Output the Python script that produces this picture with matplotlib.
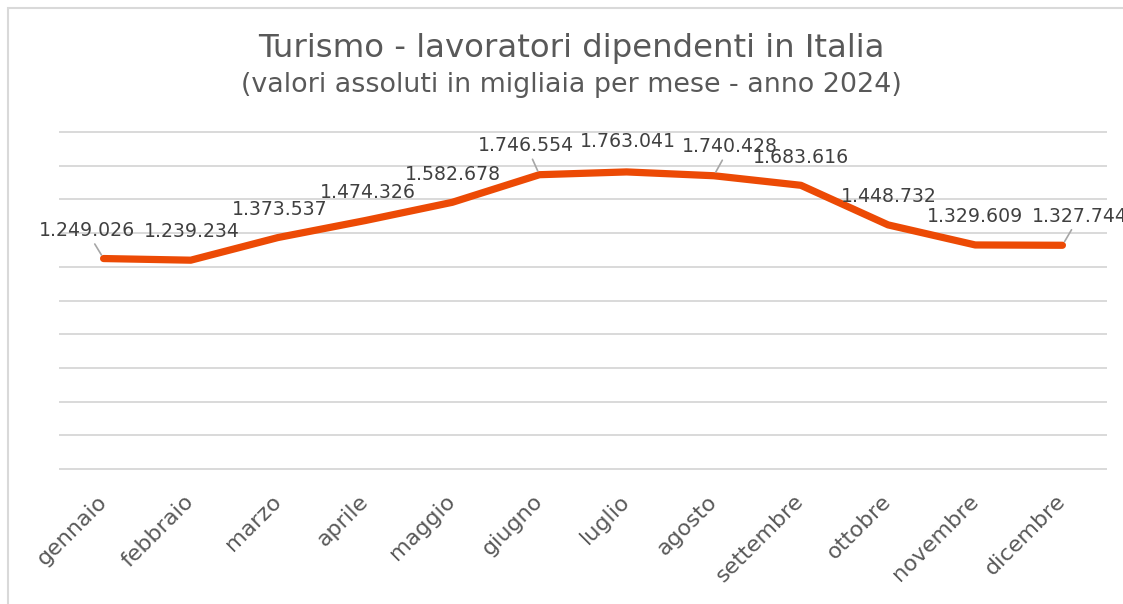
import matplotlib
matplotlib.use("Agg")
import matplotlib.pyplot as plt
from matplotlib.patches import Rectangle

# dati: lavoratori dipendenti nel turismo, anno 2024
mesi = ["gennaio", "febbraio", "marzo", "aprile", "maggio", "giugno",
        "luglio", "agosto", "settembre", "ottobre", "novembre", "dicembre"]
valori = [1249026, 1239234, 1373537, 1474326, 1582678, 1746554,
          1763041, 1740428, 1683616, 1448732, 1329609, 1327744]

# spostamento delle etichette (pixel) e linee guida
offset_etichette = [(-17, 28), (1, 29), (2, 28), (3, 28), (1, 28), (-13, 29),
                    (1, 30), (16, 29), (0, 28), (1, 28), (0, 28), (17, 29)]
con_linea = [True, False, False, False, False, True,
             False, True, False, False, False, True]

W, H = 1123, 604
fig = plt.figure(figsize=(W / 100, H / 100), dpi=100)
plt.rcParams['font.family'] = ['DejaVu Sans']

# cornice del grafico
fig.patches.append(Rectangle((8 / W, -0.2), 1.2, 1.2 - 8 / H, transform=fig.transFigure,
                             fill=False, edgecolor='#D9D9D9', linewidth=1.5))

ax = fig.add_axes([60 / W, (H - 469) / H, (1106 - 60) / W, (469 - 132) / H])

x = list(range(len(mesi)))
ax.plot(x, valori, color='#EC4A05', linewidth=5.2, solid_capstyle='round',
        solid_joinstyle='round', zorder=3)

ax.set_xlim(-0.5, len(mesi) - 0.5)
ax.set_ylim(0, 2000000)
ax.set_yticks(range(0, 2000001, 200000))
ax.set_yticklabels([])
ax.tick_params(axis='y', length=0)
ax.grid(axis='y', color='#D9D9D9', linewidth=1.4)
for gl in ax.get_ygridlines():
    gl.set_clip_on(False)
ax.set_axisbelow(True)
for s in ax.spines.values():
    s.set_visible(False)

ax.set_xticks(x)
ax.set_xticklabels(mesi, rotation=45, ha='right', va='center',
                   rotation_mode='anchor', fontsize=16, color='#595959')
ax.tick_params(axis='x', length=0, pad=21)

def fmt(v):
    return f"{v:,}".replace(",", ".")

for i, v in enumerate(valori):
    dx, dy = offset_etichette[i]
    props = None
    if con_linea[i]:
        props = dict(arrowstyle='-', color='#A6A6A6', linewidth=1.2,
                     shrinkA=1, shrinkB=3)
    ax.annotate(fmt(v), (i, v), xytext=(dx, dy), textcoords='offset pixels',
                ha='center', va='center', fontsize=13.6, color='#404040',
                arrowprops=props, annotation_clip=False, zorder=4)

fig.text(571 / W, 1 - 48 / H, "Turismo - lavoratori dipendenti in Italia",
         ha='center', va='center', fontsize=23.3, color='#595959')
fig.text(571 / W, 1 - 85 / H, "(valori assoluti in migliaia per mese - anno 2024)",
         ha='center', va='center', fontsize=19.4, color='#595959')

fig.savefig("out.png", dpi=100, facecolor='white')
